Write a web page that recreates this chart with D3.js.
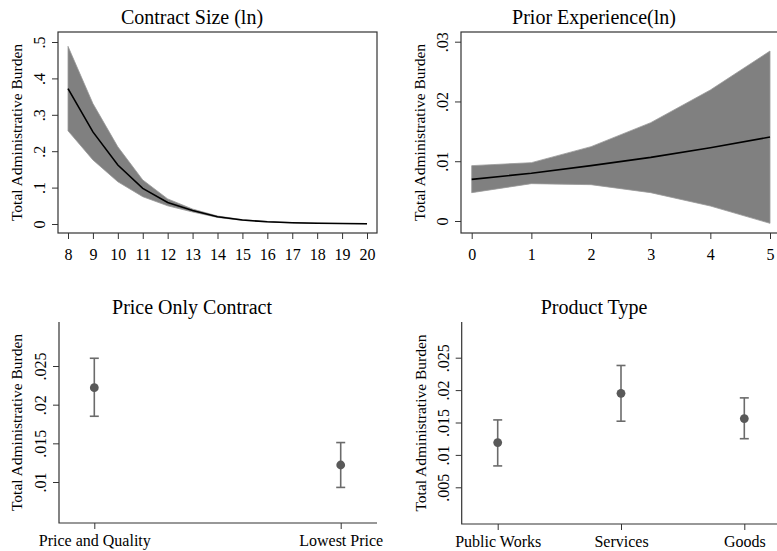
<!DOCTYPE html>
<html>
<head>
<meta charset="utf-8">
<script src="https://cdn.jsdelivr.net/npm/d3@7"></script>
<style>
  body { margin: 0; background: #fff; }
  svg { display: block; font-family: "Liberation Serif", "Times New Roman", serif; }
</style>
</head>
<body>
<svg id="fig" width="777" height="551"></svg>
<script>
// Contract size (ln)
var sizeX    = [8, 9, 10, 11, 12, 13, 14, 15, 16, 17, 18, 19, 20];
var sizeMean = [0.372, 0.253, 0.162, 0.098, 0.059, 0.037, 0.020, 0.011, 0.006, 0.0035, 0.002, 0.0012, 0.0007];
var sizeLo   = [0.256, 0.176, 0.116, 0.075, 0.050, 0.033, 0.018, 0.010, 0.0055, 0.003, 0.0018, 0.001, 0.0006];
var sizeHi   = [0.488, 0.331, 0.212, 0.121, 0.069, 0.041, 0.022, 0.012, 0.0068, 0.004, 0.0024, 0.0014, 0.0008];
var sizeYTicks = [0, 0.1, 0.2, 0.3, 0.4, 0.5];

// Prior experience (ln)
var expX    = [0, 1, 2, 3, 4, 5];
var expMean = [0.00697, 0.00798, 0.00926, 0.01065, 0.01227, 0.01405];
var expLo   = [0.00474, 0.00625, 0.00608, 0.00474, 0.00251, -0.00039];
var expHi   = [0.00926, 0.00976, 0.01244, 0.01645, 0.02192, 0.02844];
var expYTicks = [0, 0.01, 0.02, 0.03];

// Price only contract
var priceCats = ["Price and Quality", "Lowest Price"];
var priceMean = [0.0222, 0.0122];
var priceLo   = [0.0185, 0.0093];
var priceHi   = [0.0260, 0.0151];
var priceYTicks = [0.01, 0.015, 0.02, 0.025];

// Product type
var prodCats = ["Public Works", "Services", "Goods"];
var prodMean = [0.0119, 0.0195, 0.0156];
var prodLo   = [0.0083, 0.0152, 0.0125];
var prodHi   = [0.0154, 0.0238, 0.0188];
var prodYTicks = [0.005, 0.01, 0.015, 0.02, 0.025];

var yTitle = "Total Administrative Burden";
var svg = d3.select("#fig");

// Stata style numbers: .5, .025, 0
function stataFmt(v) {
    if (v === 0) return "0";
    var s = String(+v.toFixed(4));
    return s.replace(/^0\./, ".").replace(/^-0\./, "-.");
}

function title(x, y, txt) {
    svg.append("text")
        .attr("x", x).attr("y", y)
        .attr("text-anchor", "middle")
        .style("font-size", "20px")
        .text(txt);
}

function yAxisTitle(x, y, txt) {
    svg.append("text")
        .attr("transform", "translate(" + x + "," + y + ") rotate(-90)")
        .attr("text-anchor", "middle")
        .style("font-size", "15.5px")
        .text(txt);
}

// draw a left axis with rotated labels
function leftAxis(g, scale, ticks) {
    g.call(d3.axisLeft(scale).tickValues(ticks).tickSize(6).tickFormat(stataFmt));
    g.select(".domain").remove();
    g.selectAll(".tick line").attr("stroke", "#333");
    g.selectAll(".tick text")
        .attr("x", null).attr("dy", null)
        .attr("text-anchor", "middle")
        .attr("transform", "translate(-13,0) rotate(-90)")
        .style("font-size", "16px")
        .style("font-family", "Liberation Serif");
}

function bottomAxis(g, scale, ticks, off) {
    var ax = d3.axisBottom(scale).tickSize(6);
    if (ticks) ax.tickValues(ticks).tickFormat(stataFmt);
    g.call(ax);
    g.select(".domain").remove();
    g.selectAll(".tick line").attr("stroke", "#333");
    g.selectAll(".tick text")
        .attr("y", off).attr("dy", "0.71em")
        .style("font-size", "16px")
        .style("font-family", "Liberation Serif");
}

function bandPanel(box, xs, ys, xv, mean, lo, hi, yticks, ttl, titleX, axTitleX, xticks) {
    var data = xv.map(function (d, i) { return { x: d, m: mean[i], lo: lo[i], hi: hi[i] }; });

    svg.append("rect")
        .attr("x", box.x0).attr("y", box.y0)
        .attr("width", box.x1 - box.x0).attr("height", box.y1 - box.y0)
        .attr("fill", "none").attr("stroke", "#333").attr("stroke-width", 1.2);

    svg.append("path")
        .datum(data)
        .attr("fill", "#808080")
        .attr("stroke", "#999")
        .attr("stroke-width", 0.8)
        .attr("d", d3.area()
            .x(function (d) { return xs(d.x); })
            .y0(function (d) { return ys(d.lo); })
            .y1(function (d) { return ys(d.hi); }));

    svg.append("path")
        .datum(data)
        .attr("fill", "none")
        .attr("stroke", "#000")
        .attr("stroke-width", 1.6)
        .attr("d", d3.line()
            .x(function (d) { return xs(d.x); })
            .y(function (d) { return ys(d.m); }));

    leftAxis(svg.append("g").attr("transform", "translate(" + box.x0 + ",0)"), ys, yticks);
    bottomAxis(svg.append("g").attr("transform", "translate(0," + box.y1 + ")"), xs, xticks, 15.5);
    title(titleX, 24, ttl);
    yAxisTitle(axTitleX, (box.y0 + box.y1) / 2, yTitle);
}

function dotPanel(box, xs, ys, cats, mean, lo, hi, yticks, ttl, titleX, axTitleX) {
    var data = cats.map(function (c, i) { return { c: c, m: mean[i], lo: lo[i], hi: hi[i] }; });

    svg.append("path")
        .attr("d", "M" + box.x0 + "," + box.y0 + "V" + box.y1 + "H" + box.x1)
        .attr("fill", "none").attr("stroke", "#333").attr("stroke-width", 1.2);

    var g = svg.append("g");
    var bars = g.selectAll(".bar").data(data).enter().append("g").attr("class", "bar");
    bars.append("line")
        .attr("x1", function (d) { return xs(d.c); })
        .attr("x2", function (d) { return xs(d.c); })
        .attr("y1", function (d) { return ys(d.lo); })
        .attr("y2", function (d) { return ys(d.hi); })
        .attr("stroke", "#6b6b6b").attr("stroke-width", 1.6);
    ["lo", "hi"].forEach(function (k) {
        bars.append("line")
            .attr("x1", function (d) { return xs(d.c) - 4.5; })
            .attr("x2", function (d) { return xs(d.c) + 4.5; })
            .attr("y1", function (d) { return ys(d[k]); })
            .attr("y2", function (d) { return ys(d[k]); })
            .attr("stroke", "#6b6b6b").attr("stroke-width", 1.6);
    });
    bars.append("circle")
        .attr("cx", function (d) { return xs(d.c); })
        .attr("cy", function (d) { return ys(d.m); })
        .attr("r", 4.4)
        .attr("fill", "#595959");

    leftAxis(svg.append("g").attr("transform", "translate(" + box.x0 + ",0)"), ys, yticks);
    bottomAxis(svg.append("g").attr("transform", "translate(0," + box.y1 + ")"), xs, null, 12);
    title(titleX, 314, ttl);
    yAxisTitle(axTitleX, (box.y0 + box.y1) / 2, yTitle);
}

// top left
var b1 = { x0: 58, x1: 377, y0: 32, y1: 233 };
var x1s = d3.scaleLinear().domain([8, 20]).range([68, 367]);
var y1s = d3.scaleLinear().domain([0, 0.5]).range([224, 42]);
bandPanel(b1, x1s, y1s, sizeX, sizeMean, sizeLo, sizeHi, sizeYTicks,
    "Contract Size (ln)", 192, 22, sizeX);

// top right
var b2 = { x0: 461, x1: 779, y0: 32, y1: 233 };
var x2s = d3.scaleLinear().domain([0, 5]).range([471.7, 770]);
var y2s = d3.scaleLinear().domain([0, 0.03]).range([221, 41.7]);
bandPanel(b2, x2s, y2s, expX, expMean, expLo, expHi, expYTicks,
    "Prior Experience(ln)", 594, 425, expX);

// bottom left
var b3 = { x0: 59, x1: 377, y0: 322, y1: 523 };
var x3s = d3.scalePoint().domain(priceCats).range([94.3, 340.7]);
var y3s = d3.scaleLinear().domain([0.01, 0.025]).range([482, 366]);
dotPanel(b3, x3s, y3s, priceCats, priceMean, priceLo, priceHi, priceYTicks,
    "Price Only Contract", 192, 22);

// bottom right
var b4 = { x0: 461.7, x1: 779, y0: 322, y1: 524 };
var x4s = d3.scalePoint().domain(prodCats).range([497.7, 744.3]);
var y4s = d3.scaleLinear().domain([0.005, 0.025]).range([487.3, 357.7]);
dotPanel(b4, x4s, y4s, prodCats, prodMean, prodLo, prodHi, prodYTicks,
    "Product Type", 594, 426);
</script>
</body>
</html>
